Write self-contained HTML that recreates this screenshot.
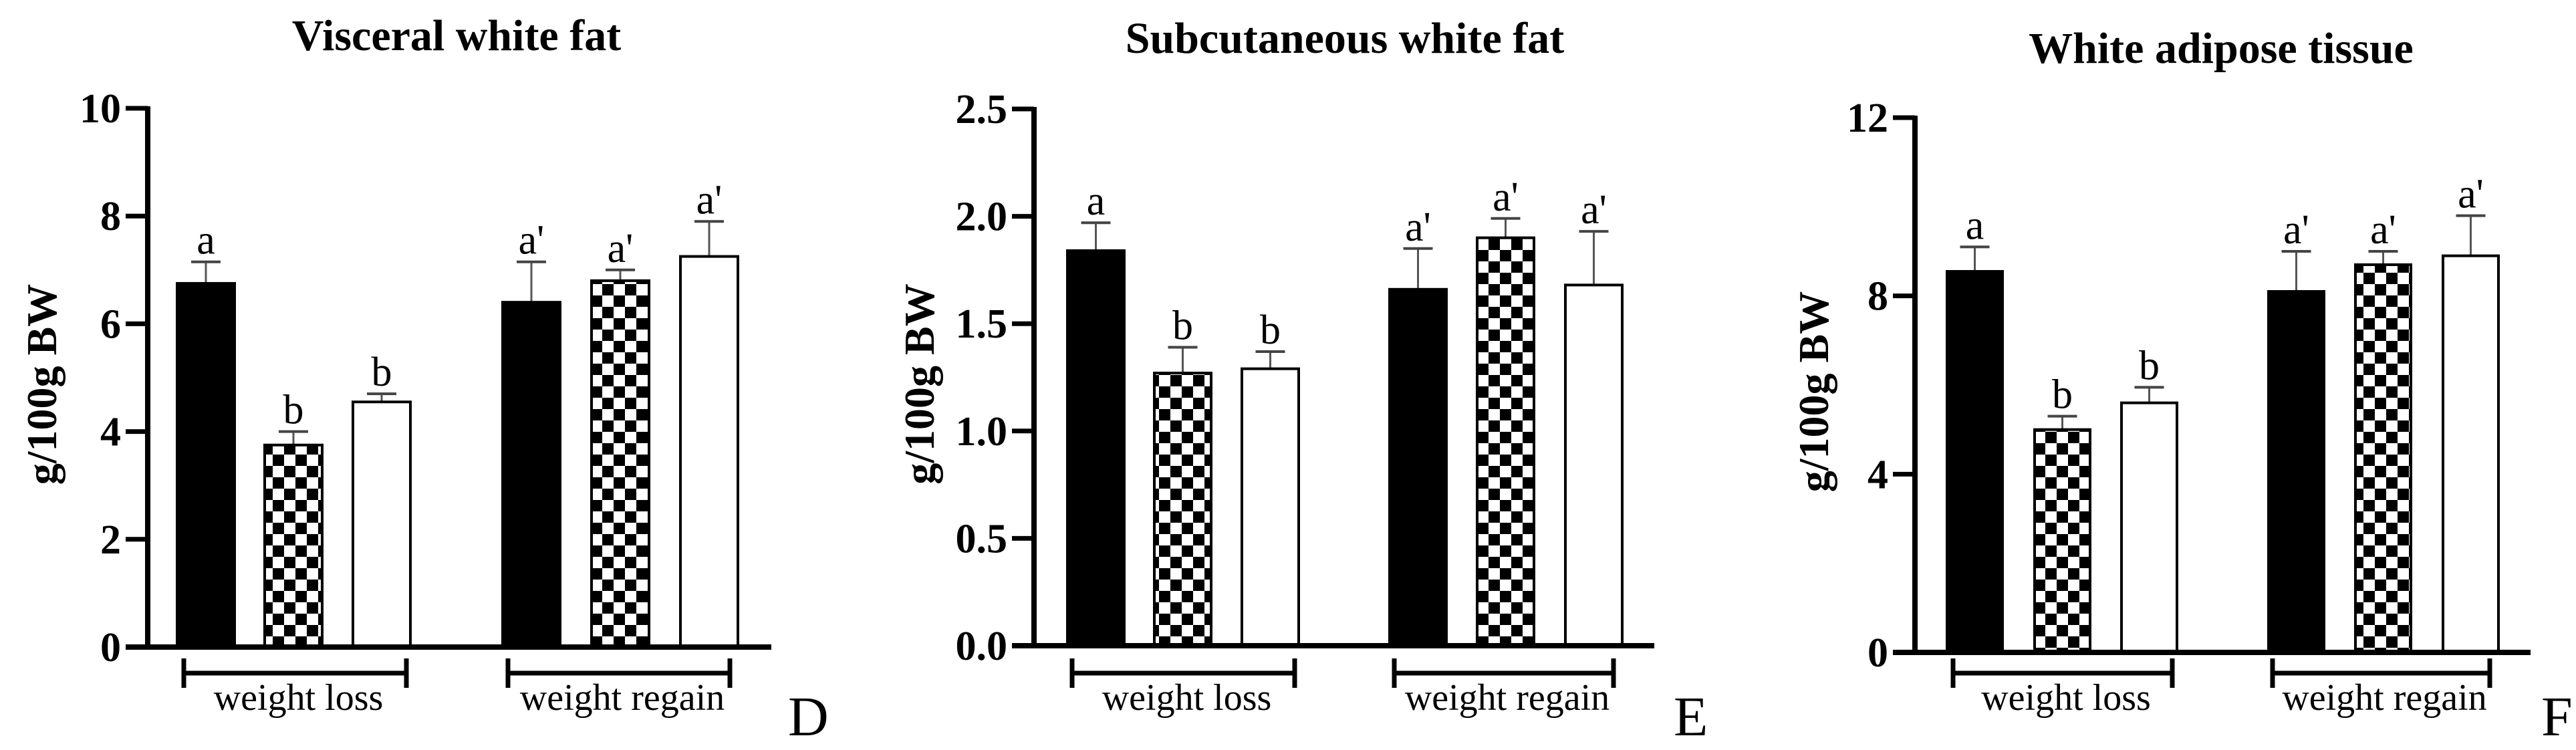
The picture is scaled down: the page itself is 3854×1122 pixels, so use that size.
<!DOCTYPE html>
<html><head><meta charset="utf-8">
<style>
html,body{margin:0;padding:0;background:#fff;}
svg{display:block;font-family:"Liberation Serif",serif;}
</style></head>
<body>
<svg id="chart" width="3854" height="1122" viewBox="0 0 3854 1122" xmlns="http://www.w3.org/2000/svg">
<defs>
<pattern id="checker" width="34" height="34" patternUnits="userSpaceOnUse">
<rect width="34" height="34" fill="#fff"/>
<rect width="17" height="17" fill="#000"/>
<rect x="17" y="17" width="17" height="17" fill="#000"/>
</pattern>
</defs>
</svg>
<script>
const panelTitles = ["Visceral white fat", "Subcutaneous white fat", "White adipose tissue"];
const panelLetters = ["D", "E", "F"];
const groupLabels = ["weight loss", "weight regain"];
const visceralValues = [6.75, 3.75, 4.55, 6.4, 6.8, 7.25];
const visceralErrors = [0.4, 0.25, 0.15, 0.75, 0.2, 0.65];
const subcutValues = [1.84, 1.27, 1.29, 1.66, 1.90, 1.68];
const subcutErrors = [0.13, 0.12, 0.08, 0.19, 0.09, 0.25];
const watValues = [8.55, 5.0, 5.6, 8.1, 8.7, 8.9];
const watErrors = [0.55, 0.3, 0.35, 0.9, 0.3, 0.9];
const sigLetters = ["a", "b", "b", "a'", "a'", "a'"];
const visceralTicks = ["0", "2", "4", "6", "8", "10"];
const subcutTicks = ["0.0", "0.5", "1.0", "1.5", "2.0", "2.5"];
const watTicks = ["0", "4", "8", "12"];

const svg = document.getElementById('chart');
const NS = "http://www.w3.org/2000/svg";
function mk(tag, attrs, parent){
  const e = document.createElementNS(NS, tag);
  for (const k in attrs) e.setAttribute(k, attrs[k]);
  (parent||svg).appendChild(e);
  return e;
}

const layouts = [
  {axisX:221, y0:968, yTop:162, xEnd:1154, bars:[265,396,528,752,885,1018], bw:86, br:[[275,608],[760,1092]], titleX:683, titleY:75, ylabX:62, letterX:1179, max:10, ticks:visceralTicks, vals:visceralValues, errs:visceralErrors},
  {axisX:1547, y0:966, yTop:163, xEnd:2475, bars:[1597,1727,1858,2079,2210,2342], bw:85, br:[[1604,1937],[2086,2414]], titleX:2012, titleY:79, ylabX:1375, letterX:2504, max:2.5, ticks:subcutTicks, vals:subcutValues, errs:subcutErrors},
  {axisX:2865, y0:976, yTop:176, xEnd:3786, bars:[2913,3044,3174,3394,3524,3655], bw:83, br:[[2922,3250],[3400,3725]], titleX:3323, titleY:94, ylabX:2713, letterX:3802, max:12, ticks:watTicks, vals:watValues, errs:watErrors}
];
const fills = ["#000", "url(#checker)", "#fff", "#000", "url(#checker)", "#fff"];

layouts.forEach((L, p) => {
  const g = mk('g', {});
  
  
  const yS = v => L.y0 - (v / L.max) * (L.y0 - L.yTop);

  const t = mk('text', {x:L.titleX, y:L.titleY, 'text-anchor':'middle', 'font-size':66, 'font-weight':'bold'}, g);
  t.textContent = panelTitles[p];
  
  

  const yl = mk('text', {x:0, y:0, transform:`translate(${L.ylabX + 22},${(L.y0 + L.yTop)/2 + 10}) rotate(-90)`, 'text-anchor':'middle', 'font-size':64, 'font-weight':'bold'}, g);
  yl.textContent = "g/100g BW";
  
  

  L.vals.forEach((v, i) => {
    const x = L.bars[i], top = yS(v), errTop = yS(v + L.errs[i]), cx = x + L.bw/2;
    const stem = mk('line', {x1:cx, x2:cx, y1:top, y2:errTop, stroke:'#555', 'stroke-width':3}, g);
    
    
    const cap = mk('line', {x1:cx-22, x2:cx+22, y1:errTop, y2:errTop, stroke:'#444', 'stroke-width':4}, g);
    
    
    const r = mk('rect', {x:x, y:top, width:L.bw, height:L.y0 - top, fill:fills[i], stroke:'#000', 'stroke-width':4}, g);
    
    
    const lt = mk('text', {x:cx, y:errTop - 12, 'text-anchor':'middle', 'font-size':62}, g);
    lt.textContent = sigLetters[i];
    
    
  });

  const ya = mk('line', {x1:L.axisX, x2:L.axisX, y1:L.yTop - 3, y2:L.y0 + 4, stroke:'#000', 'stroke-width':8}, g);
  
  
  const xa = mk('line', {x1:L.axisX - 33, x2:L.xEnd, y1:L.y0, y2:L.y0, stroke:'#000', 'stroke-width':8}, g);
  
  
  const n = L.ticks.length - 1;
  L.ticks.forEach((lab, k) => {
    const val = L.max * k / n, y = yS(val);
    const tk = mk('line', {x1:L.axisX - 33, x2:L.axisX, y1:y, y2:y, stroke:'#000', 'stroke-width':7}, g);
    
    
    const tl = mk('text', {x:L.axisX - 40, y:y + 21, 'text-anchor':'end', 'font-size':62, 'font-weight':'bold'}, g);
    tl.textContent = lab;
    
    
  });

  L.br.forEach((b, j) => {
    const by = 1007;
    const bl = mk('path', {d:`M${b[0]},${by-22} V${by+22} M${b[0]},${by} H${b[1]} M${b[1]},${by-22} V${by+22}`, stroke:'#000', 'stroke-width':7, fill:'none'}, g);
    
    
    const gl = mk('text', {x:(b[0]+b[1])/2 + 5, y:1062, 'text-anchor':'middle', 'font-size':56}, g);
    gl.textContent = groupLabels[j];
    
    
  });

  const pl = mk('text', {x:L.letterX, y:1100, 'font-size':84}, g);
  pl.textContent = panelLetters[p];
  
  
});
</script>
</body></html>
